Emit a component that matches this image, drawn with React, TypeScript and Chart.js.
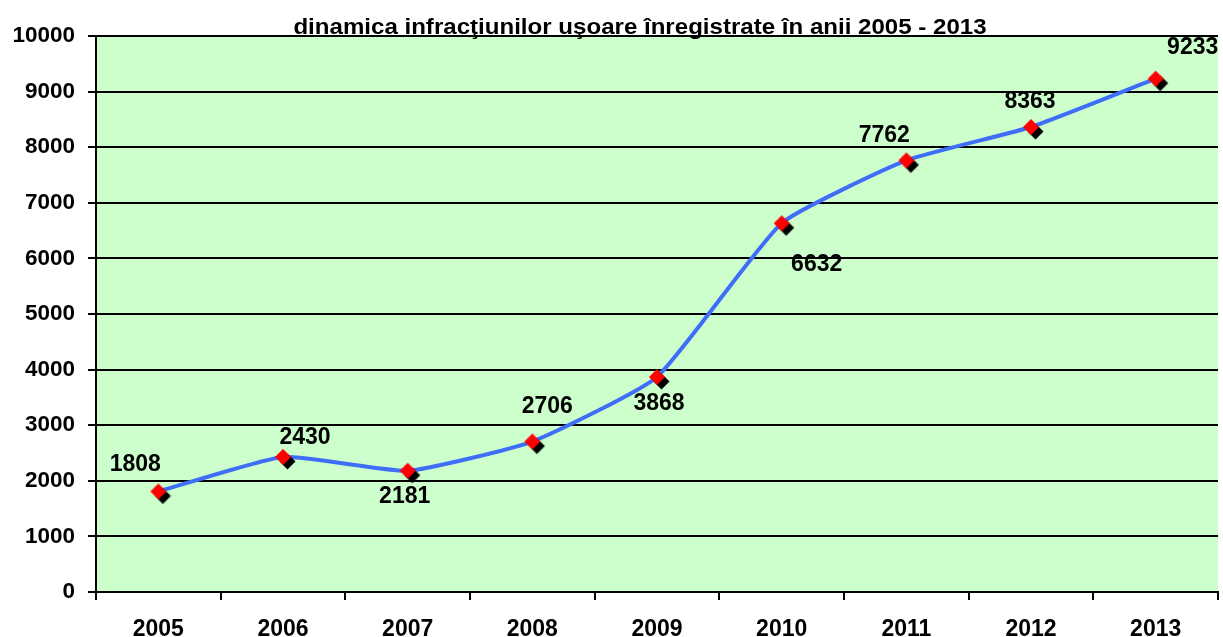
import React, { useEffect, useRef } from "react";
import { Chart, registerables } from "chart.js";

Chart.register(...registerables);

const TITLE = "dinamica infracţiunilor uşoare înregistrate în anii 2005 - 2013";
const years = ["2005", "2006", "2007", "2008", "2009", "2010", "2011", "2012", "2013"];
const values = [1808, 2430, 2181, 2706, 3868, 6632, 7762, 8363, 9233];
// label centre offsets (px) from each point, as placed in the original
const labelDx = [-23, 22, -3, 15, 2, 35, -22, -1, 37];
const labelDy = [-29, -21, 24, -37, 25, 40, -27, -27, -33];

const FONT = "'Liberation Sans', Arial, sans-serif";

function makeMarker(): HTMLCanvasElement {
  const c = document.createElement("canvas");
  c.width = 32;
  c.height = 32;
  const ctx = c.getContext("2d")!;
  const diamond = (cx: number, cy: number, r: number, color: string) => {
    ctx.beginPath();
    ctx.moveTo(cx, cy - r);
    ctx.lineTo(cx + r, cy);
    ctx.lineTo(cx, cy + r);
    ctx.lineTo(cx - r, cy);
    ctx.closePath();
    ctx.fillStyle = color;
    ctx.fill();
  };
  diamond(16 + 4.5, 16 + 4.5, 8, "#000000");
  diamond(16, 16, 8, "#FF0000");
  return c;
}

const bgPlugin = {
  id: "bgPlugin",
  beforeDraw(chart: any) {
    const { ctx, chartArea } = chart;
    ctx.save();
    ctx.fillStyle = "#ffffff";
    ctx.fillRect(0, 0, chart.width, chart.height);
    ctx.fillStyle = "#CCFFCC";
    ctx.fillRect(chartArea.left, chartArea.top, chartArea.right - chartArea.left, chartArea.bottom - chartArea.top);
    ctx.restore();
  },
};

const labelPlugin = {
  id: "labelPlugin",
  afterDatasetsDraw(chart: any) {
    const { ctx } = chart;
    const meta = chart.getDatasetMeta(0);
    ctx.save();
    ctx.font = `bold 23px ${FONT}`;
    ctx.fillStyle = "#000000";
    ctx.textAlign = "center";
    ctx.textBaseline = "alphabetic";
    meta.data.forEach((pt: any, i: number) => {
      const x = pt.x + labelDx[i];
      const y = pt.y + labelDy[i] + 8.2;
      ctx.fillText(String(values[i]), x, y);
    });
    ctx.restore();
  },
};

const titlePlugin = {
  id: "titlePlugin",
  afterDraw(chart: any) {
    const { ctx } = chart;
    ctx.save();
    ctx.font = `bold 21.5px ${FONT}`;
    ctx.fillStyle = "#000000";
    ctx.textAlign = "center";
    ctx.textBaseline = "alphabetic";
    ctx.translate(640, 33.5);
    ctx.scale(1.12, 1);
    ctx.fillText(TITLE, 0, 0);
    ctx.restore();
  },
};

export default function App() {
  const ref = useRef<HTMLCanvasElement | null>(null);
  useEffect(() => {
    if (!ref.current) return;
    const marker = makeMarker();
    const chart = new Chart(ref.current, {
      type: "line",
      data: {
        labels: years,
        datasets: [
          {
            data: values,
            borderColor: "#3F6EF8",
            borderWidth: 4,
            tension: 0.15,
            pointStyle: marker as any,
            pointRadius: 8,
            pointHoverRadius: 8,
            clip: false as any,
          },
        ],
      },
      options: {
        responsive: false,
        animation: false,
        events: [],
        layout: { autoPadding: false, padding: { top: 36, right: 5, left: 0, bottom: 0 } },
        plugins: {
          legend: { display: false },
          title: { display: false },
          tooltip: { enabled: false },
        },
        scales: {
          x: {
            offset: true,
            afterFit(scale: any) {
              scale.height = 45;
              scale.paddingLeft = 0;
              scale.paddingRight = 0;
            },
            grid: {
              offset: true,
              drawOnChartArea: false,
              drawTicks: true,
              tickLength: 8,
              color: "#000000",
              lineWidth: 2,
            },
            border: { display: true, color: "#000000", width: 2 },
            ticks: {
              color: "#000000",
              padding: 16,
              maxRotation: 0,
              font: { family: FONT, size: 23, weight: "bold" },
            },
          },
          y: {
            min: 0,
            max: 10000,
            afterFit(scale: any) {
              scale.width = 96;
              scale.paddingTop = 0;
              scale.paddingBottom = 0;
            },
            grid: {
              color: "#000000",
              lineWidth: 2,
              tickLength: 8,
              drawTicks: true,
            },
            border: { display: true, color: "#000000", width: 2 },
            ticks: {
              stepSize: 1000,
              color: "#000000",
              padding: 13,
              font: { family: FONT, size: 22.5, weight: "bold" },
              callback: (v: any) => String(v),
            },
          },
        },
      },
      plugins: [bgPlugin, labelPlugin, titlePlugin],
    });
    return () => chart.destroy();
  }, []);
  return (
    <div style={{ position: "fixed", left: 0, top: 0, width: 1223, height: 637 }}>
      <canvas ref={ref} width={1223} height={637} style={{ display: "block" }} />
    </div>
  );
}
